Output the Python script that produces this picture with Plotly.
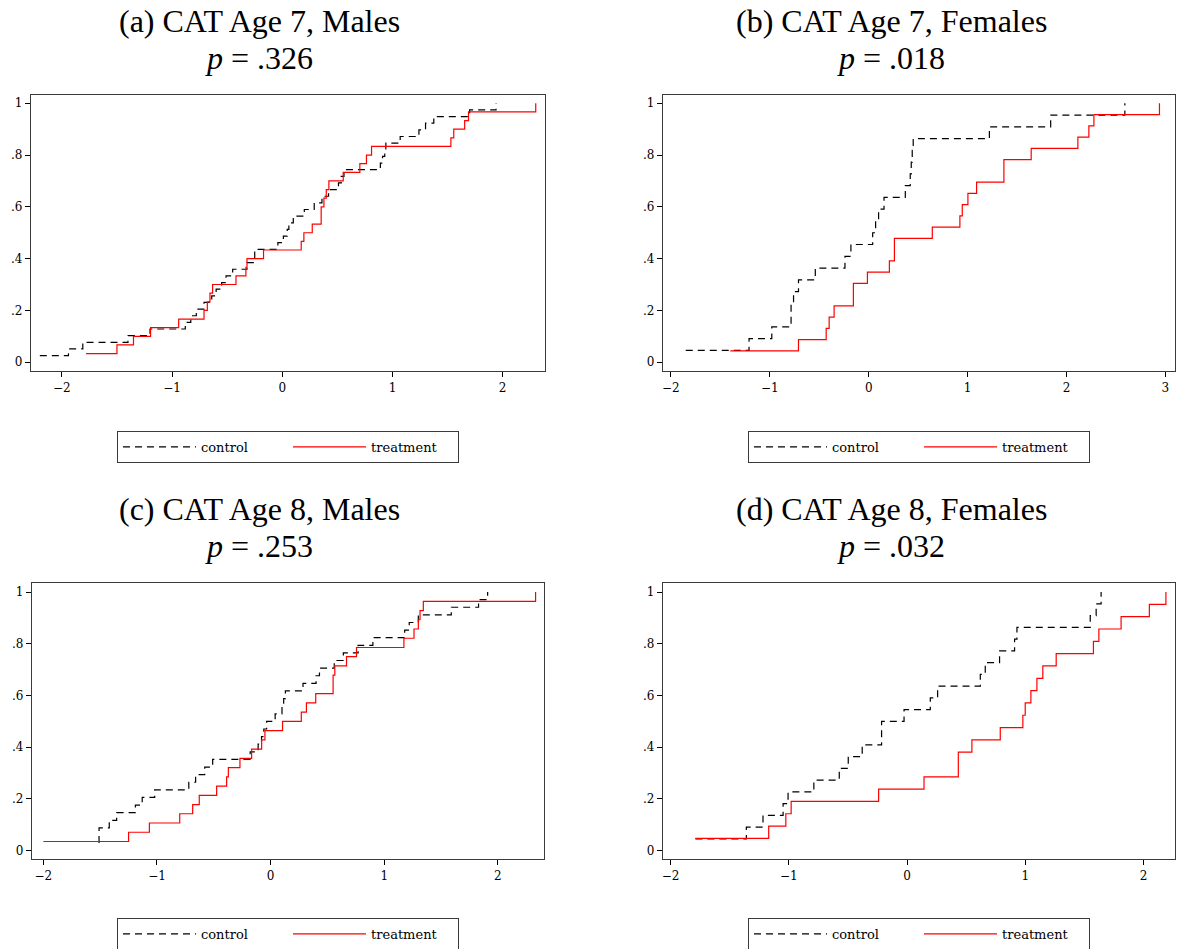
import numpy as np
import plotly.graph_objects as go

# Standardised CAT scores per group (one value per child)
a_control = [-2.20, -1.94, -1.81, -1.40, -1.20, -0.88, -0.83, -0.78, -0.71, -0.64,
             -0.60, -0.55, -0.51, -0.45, -0.32, -0.25, -0.25, -0.04, 0.01, 0.045,
             0.06, 0.10, 0.20, 0.29, 0.36, 0.42, 0.51, 0.535, 0.56, 0.89,
             0.91, 0.93, 0.94, 1.07, 1.24, 1.30, 1.375, 1.70, 1.94]
a_treat = [-1.78, -1.50, -1.35, -1.195, -0.94, -0.71, -0.68, -0.656, -0.632, -0.42,
           -0.33, -0.32, -0.17, 0.172, 0.196, 0.272, 0.353, 0.353, 0.378, 0.399,
           0.423, 0.553, 0.704, 0.764, 0.81, 1.53, 1.556, 1.655, 1.69, 2.30]

b_control = [-1.85, -1.21, -0.98, -0.785, -0.785, -0.76, -0.71, -0.54, -0.24, -0.18,
             0.04, 0.07, 0.10, 0.155, 0.37, 0.42, 0.43, 0.44, 0.45, 1.22,
             1.84, 2.59]
b_treat = [-1.40, -0.71, -0.43, -0.40, -0.35, -0.155, -0.155, -0.013, 0.209, 0.26,
           0.26, 0.643, 0.922, 0.946, 1.003, 1.091, 1.367, 1.367, 1.643, 2.115,
           2.226, 2.277, 2.94]

c_control = [-1.51, -1.51, -1.51, -1.42, -1.355, -1.19, -1.13, -1.02, -0.72, -0.66,
             -0.58, -0.51, -0.18, -0.11, -0.08, -0.06, -0.035, 0.04, 0.10, 0.115,
             0.13, 0.285, 0.40, 0.43, 0.56, 0.64, 0.77, 0.90, 1.18, 1.22,
             1.30, 1.59, 1.83, 1.91]
c_treat = [-2.00, -1.25, -1.067, -0.80, -0.686, -0.628, -0.475, -0.387, -0.372, -0.27,
           -0.167, -0.079, -0.05, 0.105, 0.27, 0.315, 0.397, 0.55, 0.55, 0.565,
           0.668, 0.756, 1.173, 1.262, 1.30, 1.315, 1.344, 2.332]

d_control = [-1.79, -1.359, -1.218, -1.048, -1.006, -0.788, -0.573, -0.497, -0.379, -0.215,
             -0.215, -0.025, 0.197, 0.259, 0.62, 0.662, 0.783, 0.91, 0.93, 1.55,
             1.60, 1.642]
d_treat = [-1.79, -1.17, -1.025, -0.98, -0.24, 0.144, 0.434, 0.434, 0.549, 0.789,
           0.98, 1.0, 1.048, 1.099, 1.149, 1.262, 1.577, 1.623, 1.811, 2.05,
           2.19]

titles = ["(a) CAT Age 7, Males", "(b) CAT Age 7, Females",
          "(c) CAT Age 8, Males", "(d) CAT Age 8, Females"]
p_values = [".326", ".018", ".253", ".032"]
series_names = ["control", "treatment"]

y_tickvals = [0, 0.2, 0.4, 0.6, 0.8, 1]
y_ticktext = ["0", ".2", ".4", ".6", ".8", "1"]
x_tickvals = [[-2, -1, 0, 1, 2], [-2, -1, 0, 1, 2, 3],
              [-2, -1, 0, 1, 2], [-2, -1, 0, 1, 2]]

W, H = 1182, 949


def ecdf(values):
    xs = np.sort(np.asarray(values, dtype=float))
    ys = np.arange(1, len(xs) + 1) / len(xs)
    return xs, ys


# panel frames in pixels: (left, right, top, bottom), axis ranges
frames = [(31, 545, 95, 371), (663, 1175, 95, 371),
          (32, 544, 583, 859), (663, 1175, 583, 859)]
x_ranges = [[-2.28, 2.384], [-2.08, 3.097], [-2.10, 2.406], [-2.064, 2.267]]
y_ranges = [[-0.034, 1.032], [-0.034, 1.032], [-0.032, 1.035], [-0.032, 1.035]]
title_x = [259, 891, 259, 891]
title_y = [(21, 58), (21, 58), (509, 546), (509, 546)]
legend_top = [431, 431, 918, 918]

groups = [(a_control, a_treat), (b_control, b_treat),
          (c_control, c_treat), (d_control, d_treat)]

serif = "Liberation Serif"
tick_font = dict(family="DejaVu Serif", size=12, color="black")

fig = go.Figure()
layout = dict(width=W, height=H,
              margin=dict(l=0, r=0, t=0, b=0, autoexpand=False),
              paper_bgcolor="white", plot_bgcolor="white", annotations=[])

for i, (ctrl, trt) in enumerate(groups):
    n = i + 1
    xa = "x" if n == 1 else f"x{n}"
    ya = "y" if n == 1 else f"y{n}"
    lg = "legend" if n == 1 else f"legend{n}"
    l, r, t, b = frames[i]

    for vals, name, color, dash in [(ctrl, series_names[0], "black", "7px,5px"),
                                    (trt, series_names[1], "#ff0000", "solid")]:
        xs, ys = ecdf(vals)
        fig.add_trace(go.Scatter(
            x=xs, y=ys, mode="lines", name=name, xaxis=xa, yaxis=ya,
            legend=lg, line=dict(color=color, width=1.2, dash=dash, shape="hv"),
            hoverinfo="skip"))

    axis_common = dict(showline=True, linecolor="#3a3a3a", linewidth=1.3,
                       mirror=True, ticks="outside", ticklen=5, tickwidth=1,
                       tickcolor="black", showgrid=False, zeroline=False,
                       tickfont=tick_font, automargin=False)
    layout["xaxis" if n == 1 else f"xaxis{n}"] = dict(
        domain=[l / W, r / W], range=x_ranges[i], anchor=ya,
        tickvals=x_tickvals[i], **axis_common)
    layout["yaxis" if n == 1 else f"yaxis{n}"] = dict(
        domain=[1 - b / H, 1 - t / H], range=y_ranges[i], anchor=xa,
        tickvals=y_tickvals, ticktext=y_ticktext, **axis_common)

    cx = (l + r) / 2 / W
    layout[lg] = dict(orientation="h", x=cx, xanchor="center",
                      y=1 - legend_top[i] / H, yanchor="top",
                      bordercolor="#3a3a3a", borderwidth=1, bgcolor="white",
                      font=dict(family="DejaVu Serif", size=13, color="black"),
                      itemwidth=73, entrywidth=82, traceorder="normal")

    tx = title_x[i] / W
    y1, y2 = title_y[i]
    layout["annotations"].append(dict(
        text=titles[i], x=tx, y=1 - y1 / H, xref="paper", yref="paper",
        xanchor="center", yanchor="middle", showarrow=False,
        font=dict(family=serif, size=32, color="black")))
    layout["annotations"].append(dict(
        text=f"<i>p</i> = {p_values[i]}", x=tx, y=1 - y2 / H, xref="paper",
        yref="paper", xanchor="center", yanchor="middle", showarrow=False,
        font=dict(family=serif, size=32, color="black")))

fig.update_layout(**layout)
fig.write_html("out.html")
